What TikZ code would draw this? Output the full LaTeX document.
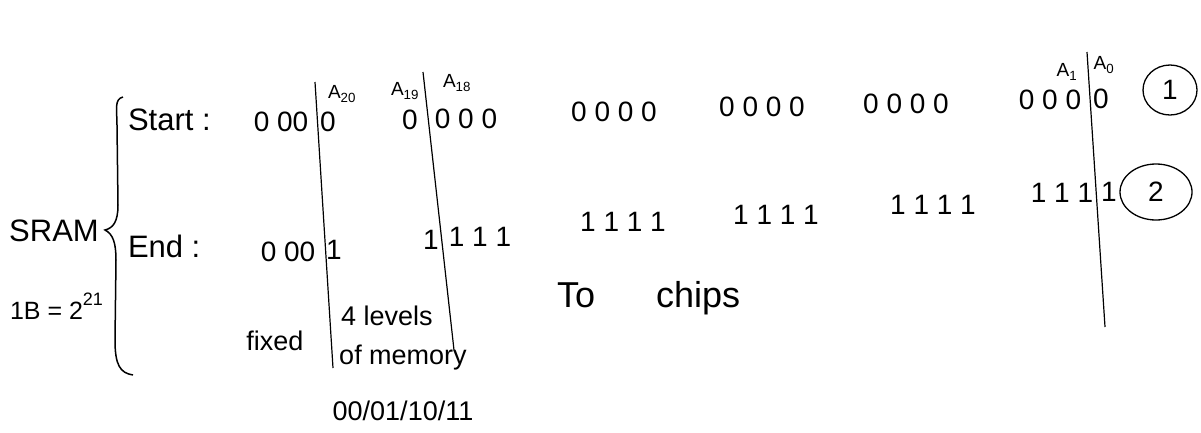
\documentclass[tikz,border=0pt]{standalone}
\usepackage{fontspec}
\setmainfont{Liberation Sans}
\usetikzlibrary{shapes.geometric}
\begin{document}
\begin{tikzpicture}[x=1pt,y=-1pt,
  every node/.style={inner sep=0pt, outer sep=0pt},
  lbl/.style={font=\fontsize{31}{34}\selectfont},
  bits/.style={font=\fontsize{28}{30}\selectfont},
  addr/.style={font=\fontsize{19}{21}\selectfont},
  note/.style={font=\fontsize{27}{30}\selectfont},
  sepline/.style={line width=1.2pt},
  num/.style={draw, ellipse, line width=1.3pt, font=\fontsize{28}{30}\selectfont}]
\useasboundingbox (0,0) rectangle (1201,432);
\fill[white] (0,0) rectangle (1201,432);

% left labels and brace
\node[lbl] (sram) at (54,231) {SRAM};
\node[font=\fontsize{25}{28}\selectfont, anchor=west] (size) at (10,306) {1B = 2\raisebox{0.55em}{\fontsize{18}{20}\selectfont 21}};
\draw[line width=1.5pt] (123,97) .. controls (114,99) and (117,110) .. (117,125) -- (118,205) .. controls (118,222) and (113,228) .. (105,230) .. controls (113,234) and (116,243) .. (116,260) -- (115,340) .. controls (115,365) and (120,373) .. (133,375);

% row labels
\node[lbl, anchor=west] (start) at (128,120) {Start :};
\node[lbl, anchor=west] (end) at (128,246) {End :};

% separator lines
\coordinate (l1a) at (315,82);  \coordinate (l1b) at (333,368);
\coordinate (l2a) at (423,72);  \coordinate (l2b) at (454,350);
\coordinate (l3a) at (1087,52); \coordinate (l3b) at (1105,327);
\draw[sepline] (l1a) -- (l1b);
\draw[sepline] (l2a) -- (l2b);
\draw[sepline] (l3a) -- (l3b);

% address labels
\node[addr] (a20) at (342,94) {A\textsubscript{20}};
\node[addr] (a19) at (405,91) {A\textsubscript{19}};
\node[addr] (a18) at (457,83) {A\textsubscript{18}};
\node[addr] (a1) at (1067,72) {A\textsubscript{1}};
\node[addr] (a0) at (1104,65) {A\textsubscript{0}};

% start bits
\node[bits] (s1) at (281,122) {0 00};
\node[bits] (s2) at (328,122) {0};
\node[bits] (s3) at (410,120) {0};
\node[bits] (s4) at (466,119) {0 0 0};
\node[bits] (s5) at (614,112) {0 0 0 0};
\node[bits] (s6) at (762,107) {0 0 0 0};
\node[bits] (s7) at (906,104) {0 0 0 0};
\node[bits] (s8) at (1050,100) {0 0 0};
\node[bits] (s9) at (1101,99) {0};

% end bits
\node[bits] (e1) at (288,252) {0 00};
\node[bits] (e2) at (334,250) {1};
\node[bits] (e3) at (431,240) {1};
\node[bits] (e4) at (480,237) {1 1 1};
\node[bits] (e5) at (623,222) {1 1 1 1};
\node[bits] (e6) at (776,215) {1 1 1 1};
\node[bits] (e7) at (933,205) {1 1 1 1};
\node[bits] (e8) at (1062,193) {1 1 1};
\node[bits] (e9) at (1109,192) {1};

% circled numbers
\node[num, minimum width=54pt, minimum height=50pt] (c1) at (1170,90) {1};
\node[num, minimum width=72pt, minimum height=56pt] (c2) at (1156,192) {2};

% notes
\node[note] (fixed) at (275,341) {fixed};
\node[note] (levels) at (387,316) {4 levels};
\node[note] (mem) at (403,358) {of memory};
\node[note] (codes) at (403,411) {00/01/10/11};
\node[font=\fontsize{36}{40}\selectfont, anchor=west] (chips) at (557,298) {To\hspace{1.7em}chips};
\end{tikzpicture}
\end{document}
